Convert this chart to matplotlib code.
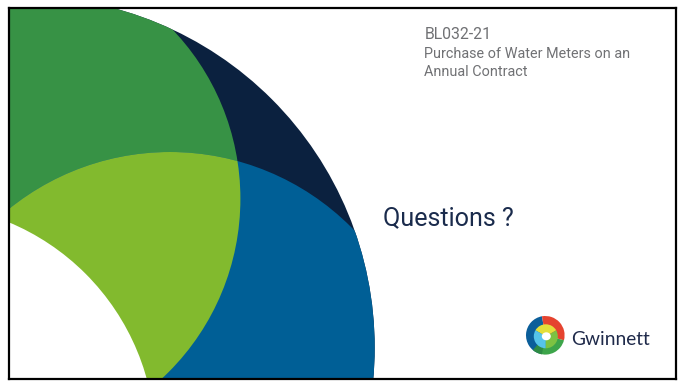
import matplotlib
matplotlib.use("Agg")
import matplotlib.pyplot as plt
from matplotlib.patches import Circle, Wedge, Ellipse

# slide frame (pixel coords of the slide inside the image)
slide_x = [9, 676]
slide_y = [8, 379]

# big decorative circles: centre x, centre y, radius, colour
navy_circle = [23.4, 347.6, 351.3, "#0b213f"]
dgreen_circle = [-4.6, 198.8, 245.0, "#379245"]
blue_circle = [170.0, 408.0, 256.0, "#005f96"]
lgreen_color = "#82ba2e"
white_circle = [-83.2, 442.4, 238.6, "white"]

title_lines = ["BL032-21", "Purchase of Water Meters on an", "Annual Contract"]
title_sizes = [11.4, 10.4, 10.4]
title_base = [39.5, 58.0, 76.0]
question = "Questions ?"
brand = "Gwinnett"

# logo pieces (angles as seen on screen, counter-clockwise from east)
logo_outer = [(100, 250, "#0b5e9a"), (-15, 100, "#e5432f"), (-110, -15, "#3da54a"),
              (-130, -100, "#2e8b45")]
logo_inner = [(30, 150, "#e3df3a"), (150, 270, "#55c4ea"), (270, 390, "#7dc242")]
logo_c = [545.3, 335.3]

W, H = 683, 381
fig = plt.figure(figsize=(W / 100, H / 100), dpi=100)
fig.patch.set_facecolor("white")
ax = fig.add_axes([slide_x[0] / W, 1 - slide_y[1] / H,
                   (slide_x[1] - slide_x[0]) / W, (slide_y[1] - slide_y[0]) / H])
ax.set_xlim(slide_x[0], slide_x[1])
ax.set_ylim(slide_y[1], slide_y[0])
ax.set_xticks([])
ax.set_yticks([])
for s in ax.spines.values():
    s.set_linewidth(1.6)
    s.set_color("black")

navy = Circle(navy_circle[:2], navy_circle[2], color=navy_circle[3], lw=0)
ax.add_patch(navy)

dg = Circle(dgreen_circle[:2], dgreen_circle[2], color=dgreen_circle[3], lw=0)
ax.add_patch(dg)
dg.set_clip_path(navy)

bl = Circle(blue_circle[:2], blue_circle[2], color=blue_circle[3], lw=0)
ax.add_patch(bl)
bl.set_clip_path(navy)

# light green is where the dark green and blue circles overlap
lg = Circle(dgreen_circle[:2], dgreen_circle[2], color=lgreen_color, lw=0)
ax.add_patch(lg)
lg.set_clip_path(bl)

ax.add_patch(Circle(white_circle[:2], white_circle[2], color=white_circle[3], lw=0))

# text
for line, sz, yb in zip(title_lines, title_sizes, title_base):
    ax.text(424.5, yb, line, fontsize=sz, family="Roboto", color="#707174", va="baseline")
ax.text(383, 225, question, fontsize=18.1, family="Roboto", color="#1a2b4c", va="baseline")
ax.text(571.5, 345, brand, fontsize=13.8, family="Lato", color="#1f2a4a", va="baseline")

# logo (y axis is flipped, so screen angles are negated)
r = 19.3
for a0, a1, c in logo_outer:
    ax.add_patch(Wedge(logo_c, r, -a1, -a0, color=c, lw=0))
for a0, a1, c in logo_inner:
    ax.add_patch(Wedge((logo_c[0] + 0.5, logo_c[1] + 1), 12, -a1, -a0, color=c, lw=0))
ax.add_patch(Ellipse((logo_c[0] + 1, logo_c[1] + 1), 9, 8, color="white", lw=0))

fig.savefig("out.png", dpi=100)
